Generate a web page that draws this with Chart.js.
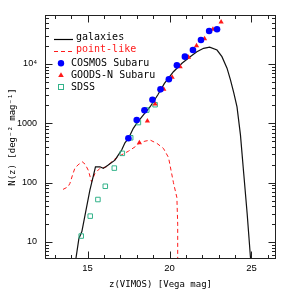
<!DOCTYPE html>
<html>
<head>
<meta charset="utf-8">
<script src="https://cdn.jsdelivr.net/npm/chart.js@4.4.1/dist/chart.umd.min.js"></script>
<style>
    html, body { margin: 0; padding: 0; background: #fff; }
</style>
</head>
<body>
<canvas id="nz" width="291" height="291"></canvas>
<script>
"use strict";

// Axis range and tick labels
var xMin = 12.4, xMax = 26.5;
var yMin = 5.17, yMax = 67000;
var xTicks = [15, 20, 25];
var yTicks = [10, 100, 1000, 10000];

// galaxies (model, solid)
var galMag = [14.25, 14.47, 14.65, 14.9, 15.14, 15.34, 15.48, 15.75, 15.96, 16.26, 16.67, 16.87, 17.08, 17.28, 17.5, 17.79, 18.0, 18.31, 18.82, 19.28, 19.69, 20.24, 20.76, 21.26, 21.67, 22.08, 22.45, 22.9, 23.2, 23.51, 23.72, 23.92, 24.12, 24.33, 24.53, 24.74, 24.94, 25.0];
var galN = [4.5, 11.5, 15, 34, 75, 126, 185, 185, 174, 198, 240, 292, 355, 470, 560, 824, 1000, 1290, 1905, 3000, 4720, 7420, 10300, 13300, 16100, 18400, 19200, 17200, 13300, 8500, 5400, 3300, 1900, 640, 143, 30, 5.6, 4];

// point-like (model, dashed)
var ptMag = [13.5, 13.8, 13.92, 14.1, 14.22, 14.42, 14.67, 14.85, 15.04, 15.24, 15.45, 15.75, 16.16, 16.57, 16.98, 17.5, 18.0, 18.16, 18.5, 18.82, 19.23, 19.63, 19.94, 20.24, 20.45, 20.5, 20.5];
var ptN = [77, 85, 97, 140, 174, 200, 225, 205, 162, 104, 143, 174, 185, 240, 285, 340, 420, 465, 500, 522, 460, 378, 265, 100, 56, 20, 4];

// COSMOS Subaru
var cosMag = [17.49, 18.0, 18.47, 18.96, 19.45, 19.96, 20.45, 20.94, 21.43, 21.92, 22.42, 22.9];
var cosN = [560, 1140, 1660, 2500, 3740, 5520, 9500, 13300, 17200, 25400, 36000, 38500];

// GOODS-N Subaru
var goodsMag = [18.16, 18.65, 19.12, 19.65, 20.16, 20.65, 21.16, 21.65, 22.14, 22.65, 23.15];
var goodsN = [471, 1090, 2110, 3740, 5970, 9000, 13000, 20400, 26600, 38500, 51000];

// SDSS
var sdssMag = [14.61, 15.16, 15.63, 16.08, 16.63, 17.12, 17.63, 18.1, 18.61, 19.12];
var sdssN = [12.6, 27.3, 52, 87, 176, 312, 571, 1030, 1675, 2060];

var FONT = "'Liberation Sans', Arial, sans-serif";
var MONO = "'DejaVu Sans Mono', monospace";
var RED = '#ff1a1a';
var BLUE = '#0000ff';
var GREEN = '#33b38a';

function pts(xs, ys) {
    return xs.map(function (x, i) { return {x: x, y: ys[i]}; });
}

// Box, inward ticks and the legend
var framePlugin = {
    id: 'frame',
    afterDraw: function (chart) {
        var ctx = chart.ctx, a = chart.chartArea;
        var xs = chart.scales.x, ys = chart.scales.y;
        var L = Math.round(a.left) + 0.5, R = Math.round(a.right) - 0.5;
        var T = Math.round(a.top) + 0.5, B = Math.round(a.bottom) - 0.5;
        ctx.save();
        ctx.strokeStyle = '#222';
        ctx.lineWidth = 1;
        ctx.strokeRect(L, T, R - L, B - T);
        ctx.beginPath();
        var m, len, p;
        for (m = 13; m <= 26; m++) {
            p = Math.round(xs.getPixelForValue(m)) + 0.5;
            len = (m % 5 === 0) ? 7 : 3.5;
            ctx.moveTo(p, B); ctx.lineTo(p, B - len);
            ctx.moveTo(p, T); ctx.lineTo(p, T + len);
        }
        for (var k = 0; k <= 4; k++) {
            for (var j = 1; j <= 9; j++) {
                var v = j * Math.pow(10, k);
                if (v < yMin || v > yMax) continue;
                p = Math.round(ys.getPixelForValue(v)) + 0.5;
                len = (j === 1) ? 7 : 3.5;
                ctx.moveTo(L, p); ctx.lineTo(L + len, p);
                ctx.moveTo(R, p); ctx.lineTo(R - len, p);
            }
        }
        ctx.stroke();

        // legend
        ctx.font = '10px ' + MONO;
        ctx.textBaseline = 'middle';
        ctx.textAlign = 'left';
        ctx.lineWidth = 1.2;
        ctx.strokeStyle = '#000';
        ctx.beginPath(); ctx.moveTo(54, 39.5); ctx.lineTo(73, 39.5); ctx.stroke();
        ctx.fillStyle = '#000';
        ctx.fillText('galaxies', 76, 37);
        ctx.strokeStyle = RED;
        ctx.lineWidth = 1;
        ctx.setLineDash([4, 3]);
        ctx.beginPath(); ctx.moveTo(54, 51.5); ctx.lineTo(73, 51.5); ctx.stroke();
        ctx.setLineDash([]);
        ctx.fillStyle = RED;
        ctx.fillText('point-like', 76, 49);

        ctx.fillStyle = BLUE;
        ctx.beginPath(); ctx.arc(61, 63.3, 3.2, 0, Math.PI * 2); ctx.fill();
        ctx.fillStyle = RED;
        ctx.beginPath(); ctx.moveTo(61, 72.2); ctx.lineTo(63.8, 77); ctx.lineTo(58.2, 77); ctx.closePath(); ctx.fill();
        ctx.strokeStyle = GREEN;
        ctx.strokeRect(58.5, 84.5, 5, 5);
        ctx.fillStyle = '#000';
        ctx.fillText('COSMOS Subaru', 71, 63.5);
        ctx.fillText('GOODS-N Subaru', 71, 75.5);
        ctx.fillText('SDSS', 71, 87);
        ctx.restore();
    }
};

var ctx = document.getElementById('nz').getContext('2d');
var nzChart = new Chart(ctx, {
    type: 'scatter',
    data: {
        datasets: [{
                label: 'COSMOS Subaru',
                data: pts(cosMag, cosN),
                pointStyle: 'circle',
                pointRadius: 3.3,
                backgroundColor: BLUE,
                borderColor: BLUE,
                borderWidth: 0,
                order: 1
            },
            {
                label: 'GOODS-N Subaru',
                data: pts(goodsMag, goodsN),
                pointStyle: 'triangle',
                pointRadius: 3,
                backgroundColor: RED,
                borderColor: RED,
                borderWidth: 0,
                order: 2
            },
            {
                label: 'SDSS',
                data: pts(sdssMag, sdssN),
                pointStyle: 'rect',
                pointRadius: 3.2,
                backgroundColor: 'rgba(0,0,0,0)',
                borderColor: GREEN,
                borderWidth: 1,
                order: 3
            },
            {
                label: 'galaxies',
                data: pts(galMag, galN),
                showLine: true,
                pointRadius: 0,
                borderColor: '#111',
                borderWidth: 1.2,
                order: 4
            },
            {
                label: 'point-like',
                data: pts(ptMag, ptN),
                showLine: true,
                pointRadius: 0,
                borderColor: RED,
                borderWidth: 1,
                borderDash: [4, 3],
                order: 5
            }
        ]
    },
    options: {
        responsive: false,
        animation: false,
        layout: { padding: { top: 15, right: 15, left: 0, bottom: 0 } },
        plugins: {
            legend: { display: false },
            tooltip: { enabled: false }
        },
        scales: {
            x: {
                type: 'linear',
                min: xMin,
                max: xMax,
                grid: { display: false, drawTicks: false },
                border: { display: false },
                afterBuildTicks: function (s) {
                    s.ticks = xTicks.map(function (v) { return {value: v}; });
                },
                afterFit: function (s) { s.height = 32; },
                ticks: {
                    autoSkip: false,
                    maxRotation: 0,
                    padding: 4,
                    color: '#000',
                    font: { family: FONT, size: 9.5 }
                },
                title: {
                    display: true,
                    text: 'z(VIMOS) [Vega mag]',
                    color: '#000',
                    padding: { top: 0, bottom: 1 },
                    font: { family: MONO, size: 9 }
                }
            },
            y: {
                type: 'logarithmic',
                min: yMin,
                max: yMax,
                grid: { display: false, drawTicks: false },
                border: { display: false },
                afterBuildTicks: function (s) {
                    s.ticks = yTicks.map(function (v) { return {value: v}; });
                },
                afterFit: function (s) { s.width = 45; },
                ticks: {
                    autoSkip: false,
                    padding: 8,
                    color: '#000',
                    font: { family: FONT, size: 9 },
                    callback: function (v) { return v === 10000 ? '10\u2074' : String(v); }
                },
                title: {
                    display: true,
                    text: 'N(z) [deg\u207B\u00B2 mag\u207B\u00B9]',
                    color: '#000',
                    padding: { top: 7, bottom: 0 },
                    font: { family: MONO, size: 9 }
                }
            }
        }
    },
    plugins: [framePlugin]
});
</script>
</body>
</html>
